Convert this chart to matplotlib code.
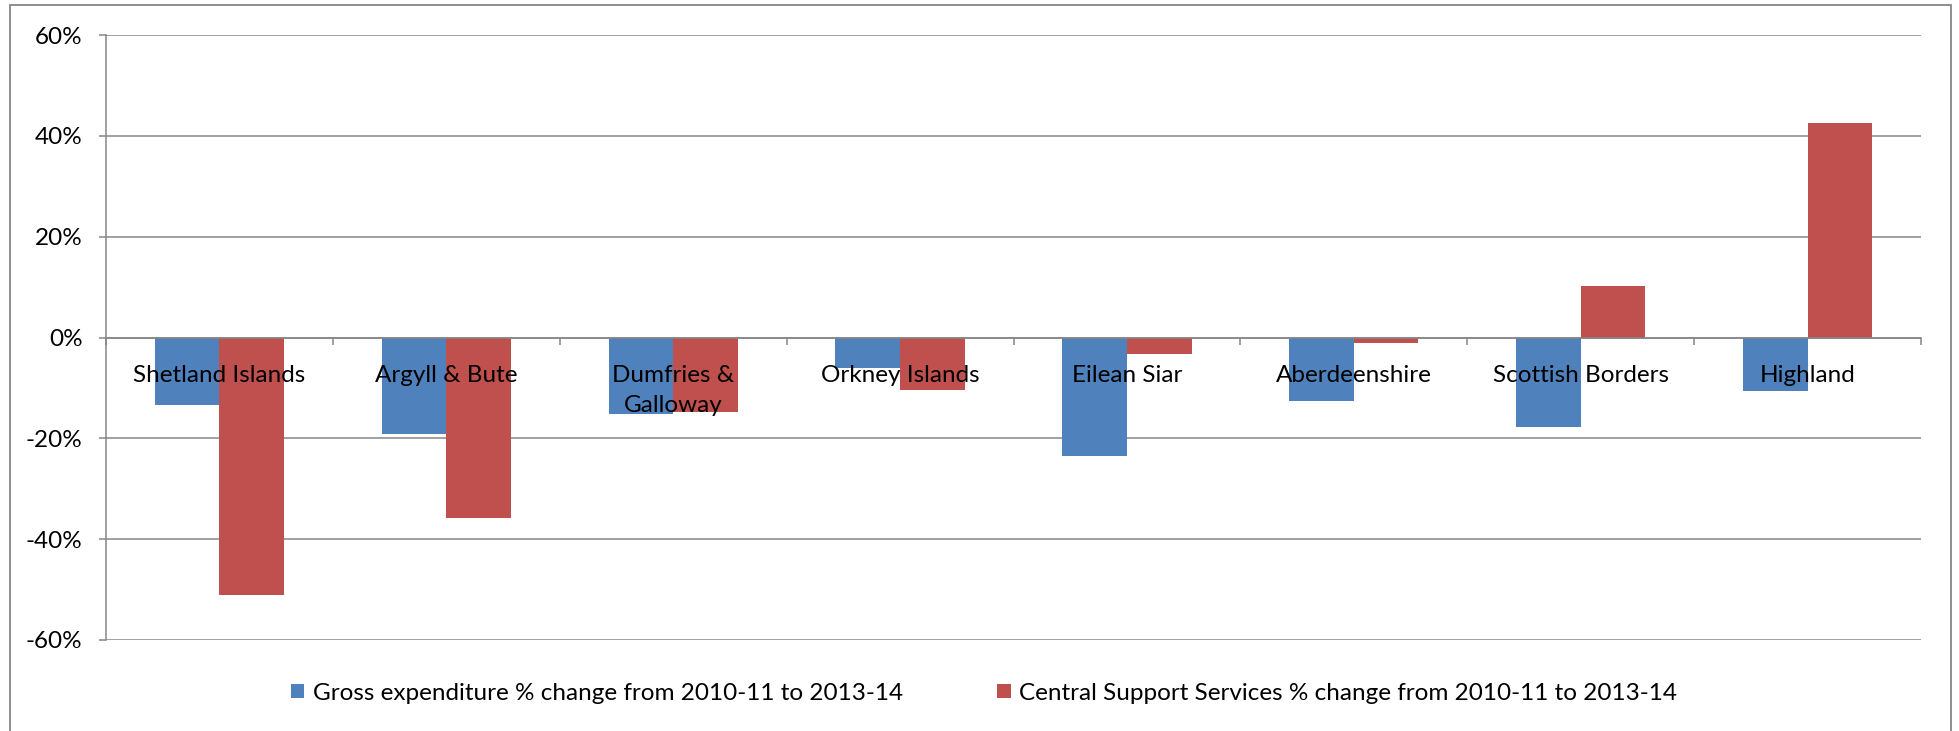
import matplotlib
matplotlib.use("Agg")
import matplotlib.pyplot as plt
import numpy as np
from matplotlib.patches import Rectangle
from matplotlib.ticker import FuncFormatter

categories = ["Shetland Islands", "Argyll & Bute", "Dumfries &\nGalloway", "Orkney Islands",
              "Eilean Siar", "Aberdeenshire", "Scottish Borders", "Highland"]
gross_exp = [-13.3, -19.1, -15.1, -6.1, -23.5, -12.6, -17.7, -10.7]
central_support = [-51.0, -35.8, -14.7, -10.5, -3.3, -1.0, 10.3, 42.5]
series_names = ["Gross expenditure % change from 2010-11 to 2013-14",
                "Central Support Services % change from 2010-11 to 2013-14"]
yticks = [-60, -40, -20, 0, 20, 40, 60]

W, H = 1959, 731
DPI = 100
FONT = "Lato"
FS = 17.5
grid_c = "#868686"
blue = "#4F81BD"
red = "#C0504D"

fig = plt.figure(figsize=(W / DPI, H / DPI), dpi=DPI)
fig.patch.set_facecolor("white")

# outer chart border
fig.patches.append(Rectangle((10 / W, -0.01), (1951 - 10) / W, 1 - 5 / H + 0.01,
                             transform=fig.transFigure, fill=False,
                             edgecolor=grid_c, linewidth=1.3))

ax = fig.add_axes([106 / W, 1 - 640 / H, 1815 / W, 605 / H])
x = np.arange(len(categories))
bw = 0.285
ax.bar(x - bw / 2, gross_exp, bw, color=blue, label=series_names[0], zorder=2)
ax.bar(x + bw / 2, central_support, bw, color=red, label=series_names[1], zorder=2)

ax.set_xlim(-0.5, len(categories) - 0.5)
ax.set_ylim(-60, 60)
ax.set_yticks(yticks)
ax.yaxis.set_major_formatter(FuncFormatter(lambda v, p: f"{int(round(v))}%"))
ax.yaxis.grid(True, color=grid_c, linewidth=1.1, zorder=0)
ax.set_axisbelow(True)

for s in ["top", "right"]:
    ax.spines[s].set_visible(False)
ax.spines["left"].set_color(grid_c)
ax.spines["left"].set_linewidth(1.1)
ax.spines["bottom"].set_position(("data", 0))
ax.spines["bottom"].set_color(grid_c)
ax.spines["bottom"].set_linewidth(1.1)
ax.spines["bottom"].set_zorder(3)

ax.set_xticks(np.arange(-0.5, len(categories), 1.0))
ax.tick_params(axis="x", direction="out", length=5, width=1.1, color=grid_c, labelbottom=False)
ax.tick_params(axis="y", direction="out", length=5, width=1.1, color=grid_c, pad=12,
               labelsize=FS)
for t in ax.get_yticklabels():
    t.set_fontfamily(FONT)

LINE_PX = 31
for i, c in enumerate(categories):
    lines = c.split("\n")
    for k, ln in enumerate(lines):
        ax.annotate(ln, xy=(i, 0), xytext=(0, -44 - k * LINE_PX), textcoords="offset pixels",
                    ha="center", va="baseline", fontsize=FS, family=FONT,
                    zorder=5, annotation_clip=False)

leg = fig.legend(loc="center", bbox_to_anchor=(0.5 * (297 + 1671) / W, 1 - 693 / H),
                 ncol=2, frameon=False, prop={"family": FONT, "size": FS},
                 handlelength=0.55, handleheight=0.55, handletextpad=0.35,
                 columnspacing=3.9)

fig.savefig("out.png", dpi=DPI, facecolor="white")
